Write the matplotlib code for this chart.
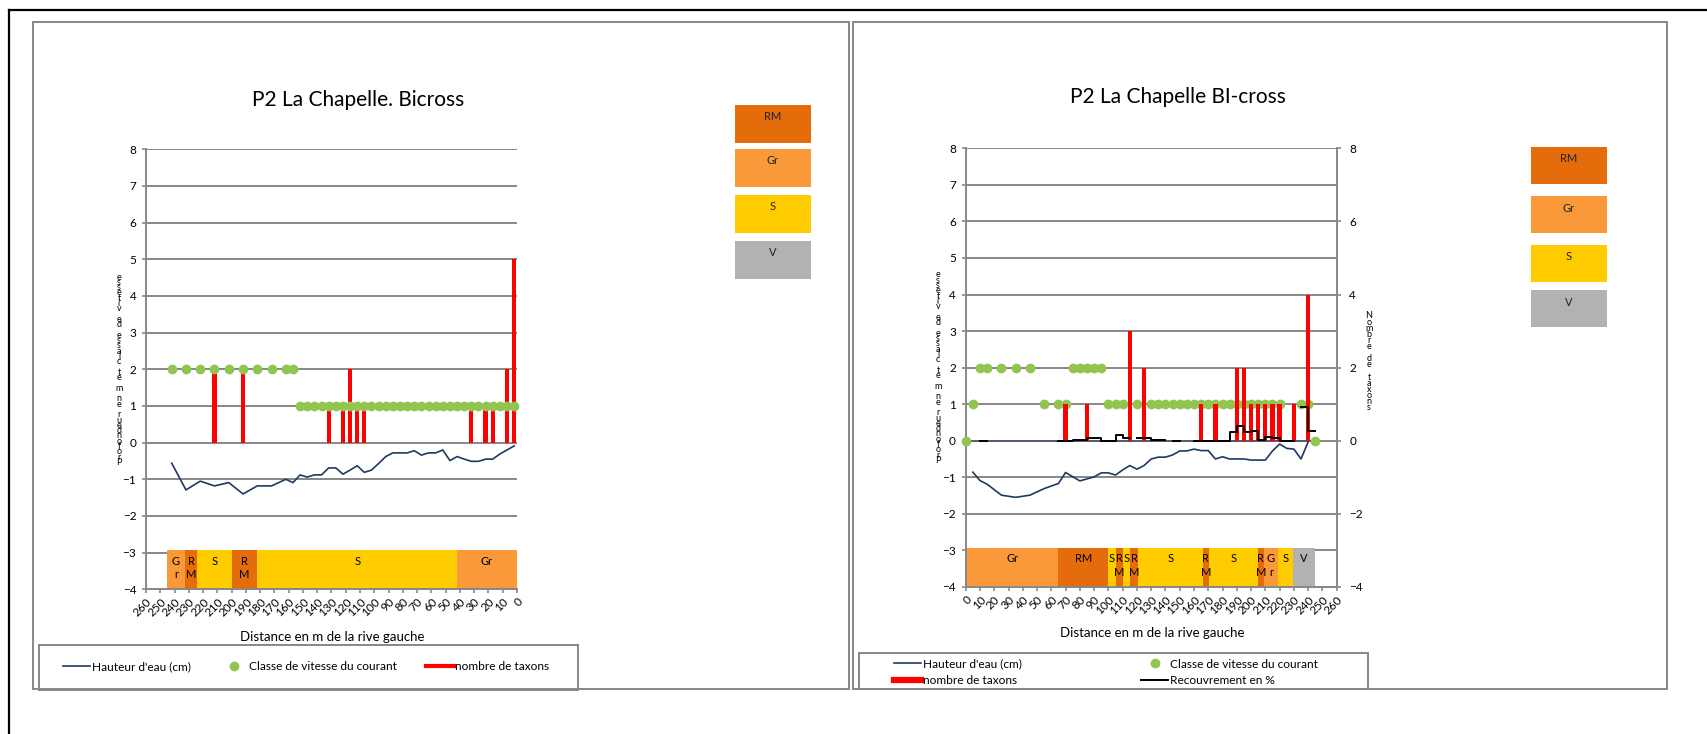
import numpy as np
import matplotlib.pyplot as plt
from matplotlib.patches import Rectangle
from matplotlib.lines import Line2D

plt.rcParams['font.family'] = ['Lato', 'DejaVu Sans']

W, H = 1708, 734

# ---------------- left chart : P2 La Chapelle. Bicross ----------------
left_x = [242, 232, 222, 212, 202, 192, 182, 172, 162, 157,
          152, 147, 142, 137, 132, 127, 122, 117, 112, 107,
          102, 97, 92, 87, 82, 77, 72, 67, 62, 57,
          52, 47, 42, 37, 32, 27, 22, 17, 12, 7, 2]
left_depth = [-0.56, -1.29, -1.05, -1.18, -1.09, -1.40, -1.18, -1.18, -1.00, -1.09,
              -0.88, -0.94, -0.88, -0.88, -0.69, -0.69, -0.86, -0.75, -0.63, -0.81,
              -0.75, -0.57, -0.38, -0.28, -0.28, -0.28, -0.22, -0.34, -0.28, -0.28,
              -0.20, -0.49, -0.38, -0.45, -0.51, -0.51, -0.45, -0.45, -0.31, -0.20, -0.09]
left_speed = [2, 2, 2, 2, 2, 2, 2, 2, 2, 2,
              1, 1, 1, 1, 1, 1, 1, 1, 1, 1,
              1, 1, 1, 1, 1, 1, 1, 1, 1, 1,
              1, 1, 1, 1, 1, 1, 1, 1, 1, 1, 1]
left_tax_x = [212, 192, 132, 122, 117, 112, 107, 32, 22, 17, 7, 2]
left_tax = [2, 2, 1, 1, 2, 1, 1, 1, 1, 1, 2, 5]
left_sub_start = [245, 233, 224, 200, 182, 42]
left_sub_end = [233, 224, 200, 182, 42, 0]
left_sub_class = ['Gr', 'RM', 'S', 'RM', 'S', 'Gr']
left_sub_label = ['G\nr', 'R\nM', 'S', 'R\nM', 'S', 'Gr']

# ---------------- right chart : P2 La Chapelle BI-cross ----------------
right_speed_x = [0, 5, 10, 15, 25, 35, 45, 55, 65, 70,
                 75, 80, 85, 90, 95, 100, 105, 110, 120, 130,
                 135, 140, 145, 150, 155, 160, 165, 170, 175, 180,
                 185, 190, 195, 200, 205, 210, 215, 220, 235, 240, 245]
right_speed = [0, 1, 2, 2, 2, 2, 2, 1, 1, 1,
               2, 2, 2, 2, 2, 1, 1, 1, 1, 1,
               1, 1, 1, 1, 1, 1, 1, 1, 1, 1,
               1, 1, 1, 1, 1, 1, 1, 1, 1, 1, 0]
right_depth_x = [5, 10, 15, 25, 35, 45, 55, 60, 65, 70,
                 80, 90, 95, 100, 105, 110, 115, 120, 125, 130,
                 135, 140, 145, 150, 155, 160, 165, 170, 175, 180,
                 185, 190, 195, 200, 205, 210, 215, 220, 225, 230, 235, 240]
right_depth = [-0.86, -1.09, -1.19, -1.49, -1.55, -1.49, -1.31, -1.24, -1.17, -0.87,
               -1.10, -0.99, -0.88, -0.88, -0.94, -0.80, -0.68, -0.78, -0.68, -0.50,
               -0.45, -0.45, -0.39, -0.28, -0.28, -0.23, -0.27, -0.27, -0.50, -0.44,
               -0.50, -0.50, -0.50, -0.53, -0.53, -0.53, -0.28, -0.09, -0.21, -0.23, -0.50, -0.03]
right_surface_x = [0, 245]
right_surface = [0, 0]
right_tax_x = [70, 85, 115, 125, 165, 175, 190, 195, 200, 205, 210, 215, 220, 230, 240]
right_tax = [1, 1, 3, 2, 1, 1, 2, 2, 1, 1, 1, 1, 1, 1, 4]
nan = np.nan
right_rec_x = [10, 15, nan, 65, 75, 85, 95, 105, 110, 115, nan, 120, 130, 140, nan,
               145, 150, nan, 160, 185, 190, 195, 200, 205, 210, 215, 220, 230, nan,
               235, 240, 245]
right_rec = [0, 0, nan, 0, 0.02, 0.08, 0, 0.15, 0.07, 0.07, nan, 0.07, 0.02, 0.02, nan,
             0, 0, nan, 0, 0.25, 0.40, 0.25, 0.27, 0.02, 0.10, 0.07, 0, 0, nan,
             0.93, 0.26, 0.26]
right_sub_start = [0, 65, 100, 105, 110, 115, 121, 166, 170.5, 204.6, 209, 218.6, 229.4]
right_sub_end = [65, 100, 105, 110, 115, 121, 166, 170.5, 204.6, 209, 218.6, 229.4, 245]
right_sub_class = ['Gr', 'RM', 'S', 'RM', 'S', 'RM', 'S', 'RM', 'S', 'RM', 'Gr', 'S', 'V']
right_sub_label = ['Gr', 'RM', 'S', 'R\nM', 'S', 'R\nM', 'S', 'R\nM', 'S', 'R\nM', 'G\nr', 'S', 'V']

sub_colors = {'RM': '#E46C0A', 'Gr': '#F9993A', 'S': '#FFCC00', 'V': '#B2B2B2'}
key_order = ['RM', 'Gr', 'S', 'V']

GRID = '#878787'
NAVY = '#1F3A60'
GREEN = '#92C450'
RED = '#FF0000'
xticks = [0, 10, 20, 30, 40, 50, 60, 70, 80, 90, 100, 110, 120, 130,
          140, 150, 160, 170, 180, 190, 200, 210, 220, 230, 240, 250, 260]


def fx(x):
    return x / W


def fy(y):
    return 1 - y / H


def px_axes(fig, x0, y0, x1, y1):
    return fig.add_axes([fx(x0), fy(y1), (x1 - x0) / W, (y1 - y0) / H])


def style_axes(ax):
    ax.set_ylim(-4, 8)
    ax.set_yticks(range(-4, 9))
    ax.yaxis.grid(True, color=GRID, lw=1.4)
    ax.set_axisbelow(True)
    for s in ['top', 'right']:
        ax.spines[s].set_visible(False)
    for s in ['left', 'bottom']:
        ax.spines[s].set_color(GRID)
        ax.spines[s].set_linewidth(1.4)
    ax.tick_params(axis='both', colors=GRID, labelcolor='black', length=3,
                   width=1.2, labelsize=8.5)
    ax.tick_params(axis='y', pad=4)
    ax.tick_params(axis='x', pad=2)
    ax.set_xticks(xticks)
    ax.set_xticklabels([str(t) for t in xticks], rotation=45, ha='right',
                       rotation_mode='anchor')


def substrate(ax, starts, ends, classes, labels):
    for s, e, c, lab in zip(starts, ends, classes, labels):
        lo, hi = min(s, e), max(s, e)
        ax.bar(lo, 1.06, width=hi - lo, bottom=-4, align='edge',
               color=sub_colors[c], lw=0, zorder=2)
        ax.text((lo + hi) / 2, -3.08, lab, ha='center', va='top', fontsize=8,
                linespacing=1.25, zorder=3)


def stacked(fig, text, x, y0, step):
    for i, ch in enumerate(text):
        fig.text(fx(x), fy(y0 + i * step), ch, ha='center', va='center',
                 fontsize=6.5)


def key_boxes(fig, x0, x1, tops, h):
    for c, t in zip(key_order, tops):
        fig.add_artist(Rectangle((fx(x0), fy(t + h)), (x1 - x0) / W, h / H,
                                 transform=fig.transFigure, color=sub_colors[c], lw=0))
        fig.text(fx((x0 + x1) / 2), fy(t + 12), c, ha='center', va='center',
                 fontsize=8, color='#222222')


def frame(fig, x0, y0, x1, y1, color=GRID, lw=1.4):
    fig.add_artist(Rectangle((fx(x0), fy(y1)), (x1 - x0) / W, (y1 - y0) / H,
                             transform=fig.transFigure, fill=False,
                             edgecolor=color, lw=lw))


fig = plt.figure(figsize=(W / 100, H / 100), dpi=100)

# page frame and panel borders
fig.add_artist(Line2D([fx(9), fx(9)], [fy(10), 0], transform=fig.transFigure,
                      color='black', lw=1.6))
fig.add_artist(Line2D([fx(9), 1], [fy(10), fy(10)], transform=fig.transFigure,
                      color='black', lw=1.6))
frame(fig, 33, 22, 849, 689)
frame(fig, 853, 22, 1667, 689)

# ---- left chart
ax = px_axes(fig, 146, 149.3, 517, 589.3)
style_axes(ax)
ax.set_xlim(260, 0)
substrate(ax, left_sub_start, left_sub_end, left_sub_class, left_sub_label)
h_depth, = ax.plot(left_x, left_depth, color=NAVY, lw=1.2, zorder=4)
ax.bar(left_tax_x, left_tax, width=3.0, color=RED, zorder=4)
h_speed, = ax.plot(left_x, left_speed, ls='none', marker='o', ms=6, color=GREEN,
                   zorder=5, clip_on=False)
fig.text(fx(358), fy(100), 'P2 La Chapelle. Bicross', ha='center', va='center',
         fontsize=15)
fig.text(fx(332), fy(637), 'Distance en m de la rive gauche', ha='center',
         va='center', fontsize=9.5)
stacked(fig, 'Profondeur en m et classe de vitesse'[::-1], 119, 277, 5.3)
key_boxes(fig, 735, 811, [105, 149, 195, 241], 38)

h_tax = Line2D([], [], color=RED, lw=3)
frame(fig, 39, 645, 578, 690)
fig.legend([h_depth, h_speed, h_tax],
           ["Hauteur d'eau (cm)", 'Classe de vitesse du courant', 'nombre de taxons'],
           loc='center left', bbox_to_anchor=(fx(63), fy(667)), ncol=3,
           frameon=False, fontsize=8.6, handlelength=2.3, handletextpad=0.12,
           columnspacing=2.45, borderaxespad=0, borderpad=0)

# ---- right chart
ax2 = px_axes(fig, 965.7, 148.3, 1336.7, 586.9)
style_axes(ax2)
ax2.set_xlim(0, 260)
substrate(ax2, right_sub_start, right_sub_end, right_sub_class, right_sub_label)
ax2.plot(right_surface_x, right_surface, color='#44546A', lw=1.1, zorder=3)
h_depth2, = ax2.plot(right_depth_x, right_depth, color=NAVY, lw=1.2, zorder=4)
h_speed2, = ax2.plot(right_speed_x, right_speed, ls='none', marker='o', ms=6,
                     color=GREEN, zorder=4, clip_on=False)
ax2.bar(right_tax_x, right_tax, width=3.0, color=RED, zorder=5)
h_rec, = ax2.plot(right_rec_x, right_rec, color='black', lw=1.4,
                  drawstyle='steps-post', zorder=6)
axr = ax2.twinx()
axr.set_ylim(-4, 8)
axr.set_yticks(range(-4, 9, 2))
for s in ['top', 'left', 'bottom']:
    axr.spines[s].set_visible(False)
axr.spines['right'].set_color(GRID)
axr.spines['right'].set_linewidth(1.4)
axr.tick_params(colors=GRID, labelcolor='black', length=3, width=1.2,
                labelsize=8.5, pad=6)

fig.text(fx(1178), fy(97), 'P2 La Chapelle BI-cross', ha='center', va='center',
         fontsize=15)
fig.text(fx(1152), fy(633), 'Distance en m de la rive gauche', ha='center',
         va='center', fontsize=9.5)
stacked(fig, 'Profondeur en m et classe de vitesse'[::-1], 938, 275, 5.3)
stacked(fig, 'Nombre de taxons', 1369, 316, 6.1)
key_boxes(fig, 1531, 1607, [147, 196, 245, 290], 37)

h_tax2 = Line2D([], [], color=RED, lw=4.5)
frame(fig, 859, 653, 1368, 689)
fig.legend([h_depth2, h_tax2, h_speed2, h_rec],
           ["Hauteur d'eau (cm)", 'nombre de taxons', 'Classe de vitesse du courant',
            'Recouvrement en %'],
           loc='center left', bbox_to_anchor=(fx(894), fy(672.5)), ncol=2,
           frameon=False, fontsize=8.6, handlelength=2.3, handletextpad=0.1,
           columnspacing=10, labelspacing=0.5, borderaxespad=0, borderpad=0)

fig.savefig('out.png', dpi=100)
